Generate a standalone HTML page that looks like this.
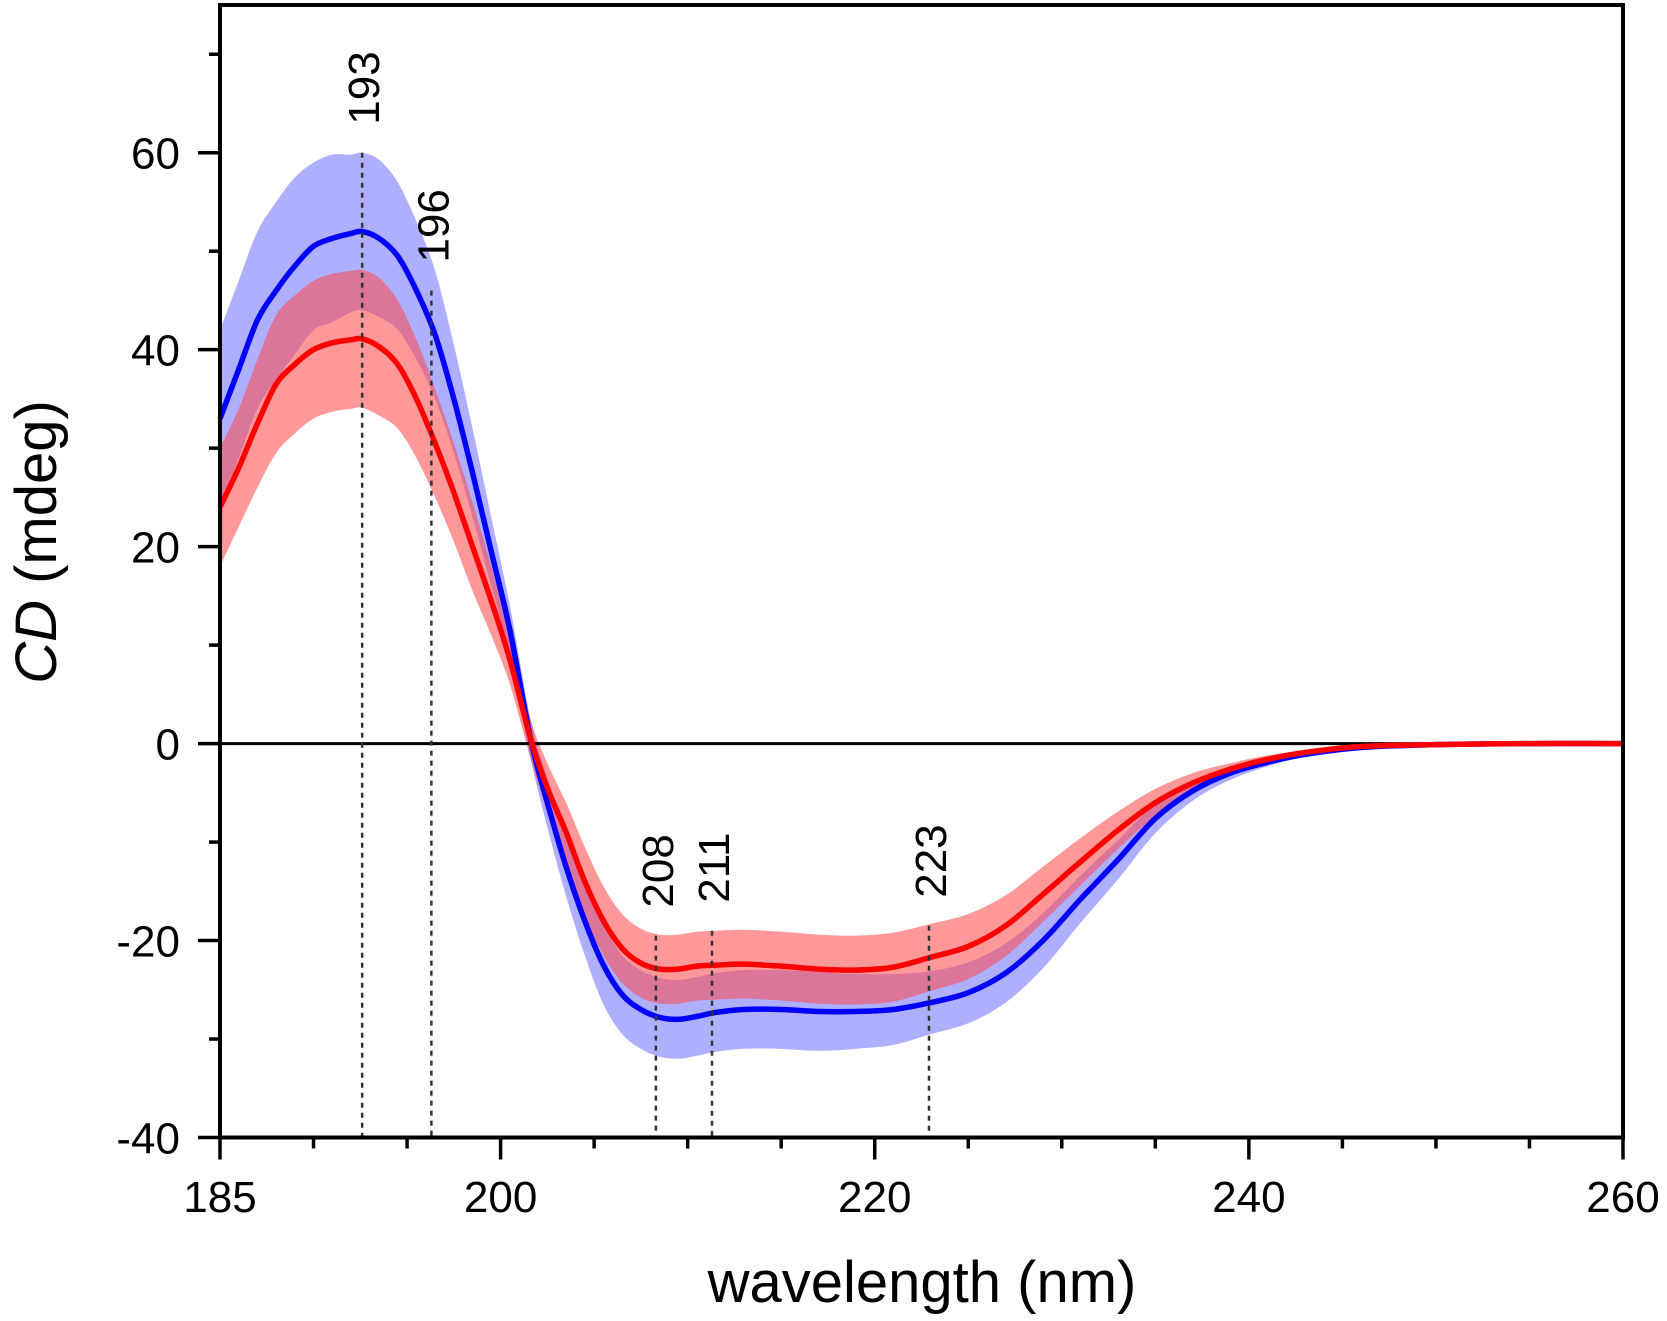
<!DOCTYPE html>
<html><head><meta charset="utf-8"><style>
html,body{margin:0;padding:0;background:#fff}
svg{display:block;font-family:"Liberation Sans",sans-serif}
</style></head><body>
<svg id="chart" width="1667" height="1321" viewBox="0 0 1667 1321">
<g id="bands"></g><g id="lines"></g><g id="annot"></g><g id="axes"></g>
</svg>
<script>
const wavelengths=[185,186,187,188,189,190,191,192,192.6,193.5,194.5,195.5,196.5,197.5,198.5,199.5,200.5,201.6,202.5,203.5,204.5,205.5,206.5,207.5,208.5,209.5,210.5,211.5,213,215,217,219,221,223,225,227,229,231,233,235,237,239,241,243,246,250,255,260];
const blueMean=[33,38,43,46,48.5,50.5,51.3,51.8,52,51.3,49.5,46,41.5,35,27.5,19.5,11.5,0.5,-6,-12.5,-18,-22.5,-25.5,-27,-27.8,-28,-27.7,-27.3,-27,-27,-27.2,-27.2,-27,-26.3,-25.3,-23.3,-20,-15.8,-11.8,-7.6,-4.8,-3,-1.9,-1.1,-0.4,-0.1,0,0];
const blueErr=[9,9,9,9,9,8.5,8.5,8,8,8,7.5,7,6.5,5.5,4.5,3.5,2.5,2,2.5,3,3.5,4,4,4,4,4,4,4,4,4,4,3.8,3.6,3.2,3.1,3,2.8,2.4,2,1.5,1,0.7,0.4,0.2,0.1,0,0,0];
const redMean=[24,28,32.5,36.5,38.5,40,40.7,41,41.1,40.3,38.5,35,30.5,25.5,20,14.5,8.5,0.5,-4.5,-9,-14,-18,-20.8,-22.3,-22.9,-22.9,-22.6,-22.5,-22.4,-22.6,-22.9,-23,-22.7,-21.7,-20.6,-18.5,-15.3,-12,-8.8,-6,-4,-2.6,-1.6,-0.9,-0.3,-0.1,0,0];
const redErr=[6,6,6.5,7,7,7,7,7,7,7,6.5,6,5.5,5,4.5,3.5,2.5,2,2.5,3,3.5,3.5,3.5,3.5,3.5,3.5,3.5,3.5,3.5,3.5,3.5,3.5,3.5,3.4,3.3,3.1,2.8,2.4,1.9,1.4,1,0.6,0.4,0.2,0.1,0,0,0];
const markerLabels=['193','196','208','211','223'];
const markerX=[192.6,196.3,208.3,211.3,222.9];
const markerTops=[60,46,-19.5,-19,-18.5];
const xTicks=[185,200,220,240,260];
const yTicks=[-40,-20,0,20,40,60];

const NS="http://www.w3.org/2000/svg";
const L=220,R=1623,T=5,B=1137.5;
const xMin=185,xMax=260,yMin=-40,yMax=75;
const xs=v=>L+(v-xMin)/(xMax-xMin)*(R-L);
const ys=v=>B-(v-yMin)/(yMax-yMin)*(B-T);
function mk(tag,attrs,parent){const e=document.createElementNS(NS,tag);for(const k in attrs)e.setAttribute(k,attrs[k]);parent.appendChild(e);return e;}
const bands=document.getElementById('bands'),lines=document.getElementById('lines'),annot=document.getElementById('annot'),axes=document.getElementById('axes');

function smooth(pts,start){
  let d=(start?'M':'L')+pts[0][0]+','+pts[0][1];
  for(let i=0;i<pts.length-1;i++){
    const p0=pts[Math.max(0,i-1)],p1=pts[i],p2=pts[i+1],p3=pts[Math.min(pts.length-1,i+2)];
    const c1=[p1[0]+(p2[0]-p0[0])/6,p1[1]+(p2[1]-p0[1])/6];
    const c2=[p2[0]-(p3[0]-p1[0])/6,p2[1]-(p3[1]-p1[1])/6];
    d+=`C${c1[0]},${c1[1]} ${c2[0]},${c2[1]} ${p2[0]},${p2[1]}`;
  }
  return d;
}
function band(mean,err,color,name){
  const up=wavelengths.map((w,i)=>[xs(w),ys(mean[i]+err[i])]);
  const lo=wavelengths.map((w,i)=>[xs(w),ys(mean[i]-err[i])]).reverse();
  const p=mk('path',{d:smooth(up,true)+smooth(lo,false)+'Z',fill:color},bands);
  
  
}
function line(mean,color,name){
  const p=mk('path',{d:smooth(wavelengths.map((w,i)=>[xs(w),ys(mean[i])]),true),fill:'none',stroke:color,'stroke-width':5.5,'stroke-linejoin':'round'},lines);
  
  
}
band(blueMean,blueErr,'rgba(110,110,255,0.55)','blue-error-band');
band(redMean,redErr,'rgba(255,70,70,0.55)','red-error-band');
const z=mk('line',{x1:L,x2:R,y1:ys(0),y2:ys(0),stroke:'#000','stroke-width':3},lines);


line(blueMean,'#0000ff','blue-mean-line');
line(redMean,'#ff0000','red-mean-line');

markerX.forEach((m,i)=>{
  const x=xs(m);
  const l=mk('line',{x1:x,x2:x,y1:ys(markerTops[i]),y2:B,stroke:'#333','stroke-width':2.5,'stroke-dasharray':'5,5'},annot);
  
  
  const ty=ys(markerTops[i])-28;
  const t=mk('text',{x:0,y:0,transform:`translate(${x+17},${ty}) rotate(-90)`,'font-size':44,fill:'#000'},annot);
  t.textContent=markerLabels[i];
  
  
});

const f=mk('rect',{x:L,y:T,width:R-L,height:B-T,fill:'none',stroke:'#000','stroke-width':4},axes);


for(let v=-40;v<=70;v+=10){
  const major=yTicks.includes(v);
  const t=mk('line',{x1:L-(major?22:11),x2:L,y1:ys(v),y2:ys(v),stroke:'#000','stroke-width':3.5},axes);
  
  
}
yTicks.forEach(v=>{
  const t=mk('text',{x:180,y:ys(v)+16,'text-anchor':'end','font-size':44},axes);
  t.textContent=v;
  
  
});
for(let v=185;v<=260;v+=5){
  const t=mk('line',{x1:xs(v),x2:xs(v),y1:B,y2:B+(xTicks.includes(v)?22:11),stroke:'#000','stroke-width':3.5},axes);
  
  
}
xTicks.forEach(v=>{
  const t=mk('text',{x:xs(v),y:1212,'text-anchor':'middle','font-size':44},axes);
  t.textContent=v;
  
  
});
const xt=mk('text',{x:922,y:1302,'text-anchor':'middle','font-size':58},axes);
xt.textContent='wavelength (nm)';


const yt=mk('text',{x:0,y:0,transform:'translate(56,542) rotate(-90)','text-anchor':'middle','font-size':58},axes);
yt.innerHTML='<tspan font-style="italic">CD</tspan> (mdeg)';


</script>
</body></html>
